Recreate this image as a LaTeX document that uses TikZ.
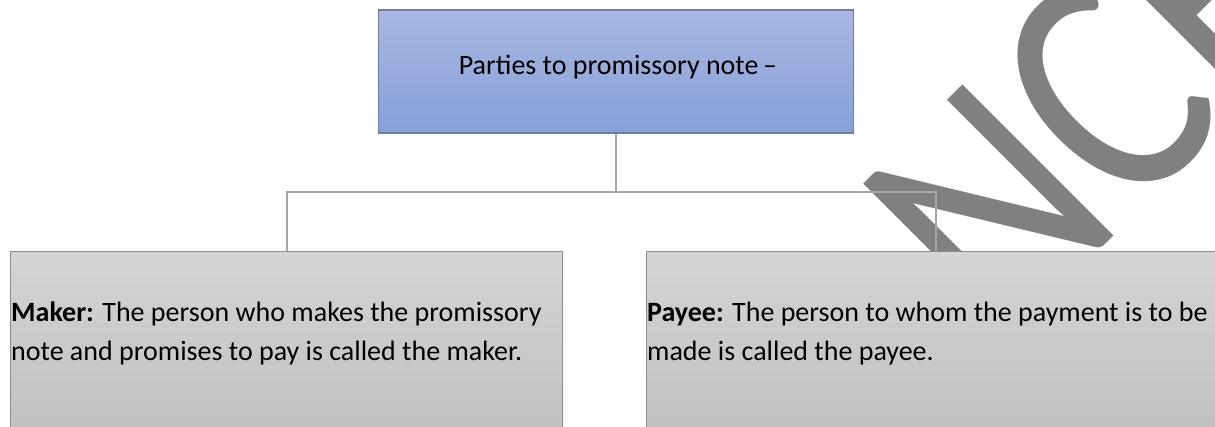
\documentclass[tikz,border=0pt]{standalone}
\usepackage{fontspec}
\setmainfont{Carlito}
\definecolor{headtop}{RGB}{169,183,225}
\definecolor{headbot}{RGB}{135,160,216}
\definecolor{headline}{RGB}{110,125,160}
\definecolor{leaftop}{RGB}{212,212,212}
\definecolor{leafbot}{RGB}{192,192,192}
\definecolor{leafline}{RGB}{140,140,140}
\definecolor{linkcol}{RGB}{166,166,166}
\definecolor{markcol}{RGB}{128,128,128}
\tikzset{
  headbox/.style={draw=headline, line width=1.2pt, top color=headtop, bottom color=headbot,
    minimum width=475pt, minimum height=123pt, inner sep=0pt},
  leafbox/.style={draw=leafline, line width=1.2pt, top color=leaftop, bottom color=leafbot,
    minimum width=#1, minimum height=190pt, inner sep=0pt, anchor=north west},
  leaftext/.style={anchor=base west, align=left, inner sep=0pt,
    font=\fontsize{28}{39}\selectfont},
  link/.style={draw=linkcol, line width=2pt},
  watermark/.style={text=markcol, font=\fontsize{280}{280}\selectfont, anchor=base west,
    inner sep=0pt, rotate=45, yscale=1.19}
}
\begin{document}
\begin{tikzpicture}[x=1pt,y=1pt]
\clip (0,0) rectangle (1215,427);
\fill[white] (0,0) rectangle (1215,427);
% diagonal watermark behind everything
\node[watermark] (wm) at (1000,77.5) {NCERT};
% boxes
\node[headbox] (head) at (616,355.5) {};
\node[leafbox=552pt] (maker) at (10,176) {};
\node[leafbox=578pt] (payee) at (646,176) {};
% texts (anchored on the baseline of the second line)
\node[font=\fontsize{28}{32}\selectfont, anchor=base, inner sep=0pt] (headtxt) at (618,352)
  {Parties to promissory note\,–};
\node[leaftext] (makertxt) at (11,66)
  {\textbf{Maker:} The person who makes the promissory\\note and promises to pay is called the maker.};
\node[leaftext] (payeetxt) at (647,66)
  {\textbf{Payee:} The person to whom the payment is to be\\made is called the payee.};
% connectors
\coordinate (hub) at (head.south |- 0,235);
\draw[link] (head.south) -- (hub) -| (maker.north);
\draw[link] (hub) -| (payee.north);
\end{tikzpicture}
\end{document}
